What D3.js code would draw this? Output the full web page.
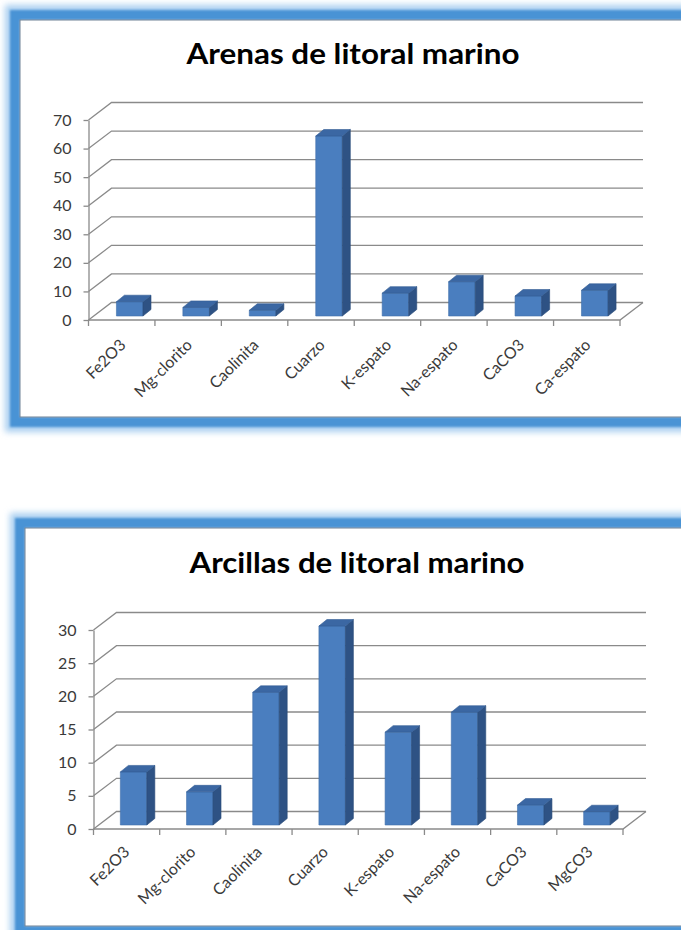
<!DOCTYPE html>
<html>
<head>
<meta charset="utf-8">
<script src="https://cdn.jsdelivr.net/npm/d3@7"></script>
<style>
  html, body { margin: 0; padding: 0; background: #ffffff; }
  svg { display: block; }
</style>
</head>
<body>
<svg id="fig" width="681" height="930"></svg>
<script>
// ---- data ----
const arenasTitle = "Arenas de litoral marino";
const arenasCategories = ["Fe2O3", "Mg-clorito", "Caolinita", "Cuarzo", "K-espato", "Na-espato", "CaCO3", "Ca-espato"];
const arenasValues = [5, 3, 2, 63, 8, 12, 7, 9];
const arenasTicks = [0, 10, 20, 30, 40, 50, 60, 70];

const arcillasTitle = "Arcillas de litoral marino";
const arcillasCategories = ["Fe2O3", "Mg-clorito", "Caolinita", "Cuarzo", "K-espato", "Na-espato", "CaCO3", "MgCO3"];
const arcillasValues = [8, 5, 20, 30, 14, 17, 3, 2];
const arcillasTicks = [0, 5, 10, 15, 20, 25, 30];

// ---- page layout ----
const svg = d3.select("#fig");
const defs = svg.append("defs");
defs.append("filter").attr("id", "glow").attr("x", "-10%").attr("y", "-10%").attr("width", "120%").attr("height", "120%")
  .append("feGaussianBlur").attr("stdDeviation", 3);
defs.append("filter").attr("id", "soft").attr("x", "-10%").attr("y", "-10%").attr("width", "120%").attr("height", "120%")
  .append("feGaussianBlur").attr("stdDeviation", 1.1);

const FONT = "Lato, 'Open Sans', 'DejaVu Sans', sans-serif";

function drawPanel(p) {
  const g = svg.append("g");

  // framed chart area: soft blue border with glow, white inside
  const f = p.frame;
  g.append("rect")
    .attr("x", f.x - 7).attr("y", f.y - 7)
    .attr("width", f.w + 14).attr("height", f.h + 14)
    .attr("fill", "none").attr("stroke", "#a9cff0").attr("stroke-width", 16)
    .attr("filter", "url(#glow)");
  g.append("rect")
    .attr("x", f.x - 5).attr("y", f.y - 5)
    .attr("width", f.w + 10).attr("height", f.h + 10)
    .attr("fill", "none").attr("stroke", "#4a93d5").attr("stroke-width", 10)
    .attr("filter", "url(#soft)");
  g.append("rect")
    .attr("x", f.x).attr("y", f.y)
    .attr("width", f.w).attr("height", f.h)
    .attr("fill", "#ffffff").attr("stroke", "#6f8296").attr("stroke-width", 1);

  // title
  g.append("text")
    .attr("x", p.titleX).attr("y", p.titleY)
    .attr("text-anchor", "middle")
    .attr("font-family", FONT).attr("font-weight", "bold")
    .attr("font-size", 28).attr("fill", "#000")
    .attr("textLength", p.titleLen).attr("lengthAdjust", "spacingAndGlyphs")
    .text(p.title);

  // scales
  const x = d3.scaleBand().domain(p.categories).range([p.x0, p.x1])
    .paddingInner(0.6).paddingOuter(0.3);
  const yMax = d3.max(p.ticks);
  const y = d3.scaleLinear().domain([0, yMax]).range([p.yBase, p.yTop]);
  const dx = p.dx, dy = p.dy;
  const gridColor = "#8a8a8a";

  // back wall gridlines with their oblique return to the value axis
  g.append("g").selectAll("path").data(p.ticks).join("path")
    .attr("d", t => `M${p.x0},${y(t)} L${p.x0 + dx},${y(t) + dy} L${p.x1 + dx},${y(t) + dy}`)
    .attr("fill", "none").attr("stroke", gridColor).attr("stroke-width", 1.3);

  // floor front edge and right side edge
  g.append("path")
    .attr("d", `M${p.x0},${p.yBase} L${p.x1},${p.yBase} L${p.x1 + dx},${p.yBase + dy}`)
    .attr("fill", "none").attr("stroke", gridColor).attr("stroke-width", 1.3);

  // category tick marks on band boundaries
  const bounds = d3.range(p.categories.length + 1).map(i => p.x0 + i * x.step());
  g.append("g").selectAll("line").data(bounds).join("line")
    .attr("x1", d => d).attr("x2", d => d)
    .attr("y1", p.yBase).attr("y2", p.yBase + 6)
    .attr("stroke", gridColor).attr("stroke-width", 1.3);

  // value axis
  const yAxis = g.append("g")
    .attr("transform", `translate(${p.x0},0)`)
    .call(d3.axisLeft(y).tickValues(p.ticks).tickSize(5).tickSizeOuter(0).tickPadding(12));
  yAxis.select(".domain").attr("stroke", gridColor).attr("stroke-width", 1.3);
  yAxis.selectAll(".tick line").attr("stroke", gridColor).attr("stroke-width", 1.3);
  yAxis.selectAll(".tick text")
    .attr("font-family", FONT).attr("font-size", 16).attr("fill", "#3a3a3a");

  // 3D columns
  const bw = x.bandwidth();
  const bdx = 8, bdy = -6.5;
  const bars = g.append("g").selectAll("g").data(p.categories.map((c, i) => ({ c, v: p.values[i] }))).join("g");
  const L = d => x(d.c) + p.barShift;
  const B = p.yBase - 4;
  const T = d => y(d.v) - 4;
  bars.append("path") // front face
    .attr("d", d => `M${L(d)},${B} L${L(d) + bw},${B} L${L(d) + bw},${T(d)} L${L(d)},${T(d)} Z`)
    .attr("fill", "#4a7ebf").attr("stroke", "#3f6ea9").attr("stroke-width", 0.6);
  bars.append("path") // side face
    .attr("d", d => `M${L(d) + bw},${B} L${L(d) + bw + bdx},${B + bdy} L${L(d) + bw + bdx},${T(d) + bdy} L${L(d) + bw},${T(d)} Z`)
    .attr("fill", "#2e5284").attr("stroke", "#2a4b78").attr("stroke-width", 0.6);
  bars.append("path") // top face
    .attr("d", d => `M${L(d)},${T(d)} L${L(d) + bdx},${T(d) + bdy} L${L(d) + bw + bdx},${T(d) + bdy} L${L(d) + bw},${T(d)} Z`)
    .attr("fill", "#3b67a3").attr("stroke", "#335c93").attr("stroke-width", 0.6);

  // category labels, slanted
  g.append("g").selectAll("text").data(p.categories).join("text")
    .attr("transform", c => `translate(${x(c) + bw / 2 + p.labelShift},${p.yBase + p.labelDrop}) rotate(-45)`)
    .attr("text-anchor", "end")
    .attr("font-family", FONT).attr("font-size", 16).attr("fill", "#3a3a3a")
    .text(c => c);
}

drawPanel({
  title: arenasTitle, categories: arenasCategories, values: arenasValues, ticks: arenasTicks,
  frame: { x: 20, y: 20, w: 700, h: 397 },
  titleX: 353, titleY: 64, titleLen: 333,
  x0: 88.5, x1: 620, yBase: 320, yTop: 120, dx: 23, dy: -17.5,
  barShift: 8, labelShift: 5, labelDrop: 26
});

drawPanel({
  title: arcillasTitle, categories: arcillasCategories, values: arcillasValues, ticks: arcillasTicks,
  frame: { x: 25, y: 528, w: 700, h: 398 },
  titleX: 357, titleY: 573, titleLen: 335,
  x0: 93.5, x1: 623, yBase: 829, yTop: 630, dx: 23, dy: -17.5,
  barShift: 7, labelShift: 4, labelDrop: 24
});
</script>
</body>
</html>
